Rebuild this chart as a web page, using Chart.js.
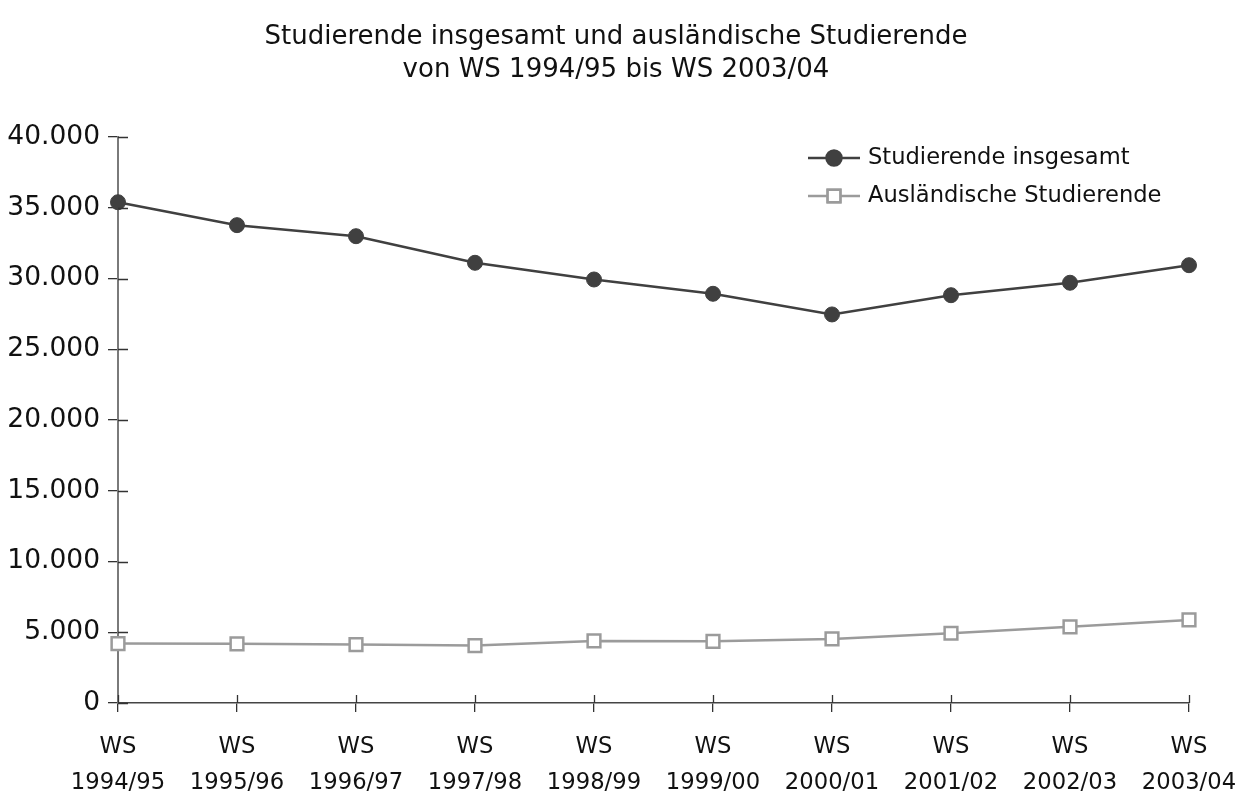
<!DOCTYPE html>
<html>
<head>
<meta charset="utf-8">
<script src="https://cdn.jsdelivr.net/npm/chart.js@4/dist/chart.umd.min.js"></script>
<style>
  html, body { margin: 0; padding: 0; background: #fff; }
  #wrap { width: 1246px; height: 791px; position: relative; }
</style>
</head>
<body>
<div id="wrap"><canvas id="chart" width="1246" height="791"></canvas></div>
<script>
const semesters = [
  ["WS", "1994/95"], ["WS", "1995/96"], ["WS", "1996/97"], ["WS", "1997/98"],
  ["WS", "1998/99"], ["WS", "1999/00"], ["WS", "2000/01"], ["WS", "2001/02"],
  ["WS", "2002/03"], ["WS", "2003/04"]
];
const studierendeInsgesamt = [35390, 33770, 32990, 31110, 29930, 28920, 27460, 28820, 29700, 30940];
const auslaendischeStudierende = [4200, 4180, 4130, 4060, 4390, 4360, 4530, 4930, 5380, 5870];
const titleLines = ["Studierende insgesamt und ausländische Studierende", "von WS 1994/95 bis WS 2003/04"];

const FONT = "'DejaVu Sans', sans-serif";

function formatDe(v) {
  return String(v).replace(/\B(?=(\d{3})+(?!\d))/g, ".");
}

// two-line title, centred a little right of the canvas middle like the original
const chartTitle = {
  id: "chartTitle",
  afterDraw(chart) {
    const ctx = chart.ctx;
    ctx.save();
    ctx.fillStyle = "#111";
    ctx.font = "26px " + FONT;
    ctx.textAlign = "center";
    ctx.textBaseline = "middle";
    titleLines.forEach((line, i) => ctx.fillText(line, 616, 37 + i * 33));
    ctx.restore();
  }
};

// tick marks crossing the axis line (Chart.js only draws the outer half)
const innerTicks = {
  id: "innerTicks",
  afterDatasetsDraw(chart) {
    const ctx = chart.ctx;
    const x = chart.scales.x, y = chart.scales.y;
    ctx.save();
    ctx.strokeStyle = "#333";
    ctx.lineWidth = 1.3;
    ctx.beginPath();
    y.ticks.forEach((t, i) => {
      const py = Math.round(y.getPixelForTick(i)) + 0.5;
      ctx.moveTo(y.right, py);
      ctx.lineTo(y.right + 10, py);
    });
    x.ticks.forEach((t, i) => {
      const px = Math.round(x.getPixelForTick(i)) + 0.5;
      ctx.moveTo(px, x.top);
      ctx.lineTo(px, x.top - 8);
    });
    ctx.stroke();
    ctx.restore();
  }
};

// legend in the upper right of the plot
const innerLegend = {
  id: "innerLegend",
  afterDraw(chart) {
    const ctx = chart.ctx;
    ctx.save();
    chart.data.datasets.forEach((ds, i) => {
      const cy = 158 + i * 38;
      const x0 = 808, x1 = 860, cx = 834;
      ctx.strokeStyle = ds.borderColor;
      ctx.lineWidth = ds.borderWidth;
      ctx.beginPath();
      ctx.moveTo(x0, cy);
      ctx.lineTo(x1, cy);
      ctx.stroke();
      Chart.helpers.drawPoint(ctx, {
        pointStyle: ds.pointStyle,
        radius: ds.pointRadius,
        borderWidth: ds.pointBorderWidth,
        rotation: 0
      }, cx, cy);
      ctx.fillStyle = ds.pointBackgroundColor;
      ctx.strokeStyle = ds.pointBorderColor;
      ctx.lineWidth = ds.pointBorderWidth;
      ctx.fill();
      ctx.stroke();
      ctx.fillStyle = "#111";
      ctx.font = "22.6px " + FONT;
      ctx.textBaseline = "middle";
      ctx.textAlign = "left";
      ctx.fillText(ds.label, 868, cy);
    });
    ctx.restore();
  }
};

new Chart(document.getElementById("chart"), {
  type: "line",
  data: {
    labels: semesters,
    datasets: [
      {
        label: "Studierende insgesamt",
        data: studierendeInsgesamt,
        borderColor: "#404040",
        borderWidth: 2.5,
        pointStyle: "circle",
        pointRadius: 7.5,
        pointBorderWidth: 1,
        pointBackgroundColor: "#404040",
        pointBorderColor: "#404040",
        tension: 0
      },
      {
        label: "Ausländische Studierende",
        data: auslaendischeStudierende,
        borderColor: "#9b9b9b",
        borderWidth: 2.5,
        pointStyle: "rect",
        pointRadius: 9,
        pointBorderWidth: 2.5,
        pointBackgroundColor: "#ffffff",
        pointBorderColor: "#9b9b9b",
        tension: 0
      }
    ]
  },
  options: {
    responsive: false,
    animation: false,
    layout: { padding: { left: 0, right: 57, top: 137, bottom: 0 } },
    plugins: {
      legend: { display: false },
      tooltip: { enabled: false },
      title: { display: false }
    },
    scales: {
      x: {
        offset: false,
        afterFit(scale) {
          scale.height = 88;
          scale.paddingLeft = 0;
          scale.paddingRight = 0;
        },
        border: { color: "#444", width: 1.5 },
        grid: { drawOnChartArea: false, drawTicks: true, tickLength: 9, color: "#333", lineWidth: 1.3 },
        ticks: {
          color: "#111",
          padding: 18,
          maxRotation: 0,
          autoSkip: false,
          font: { family: FONT, size: 22.7, lineHeight: 1.55 }
        }
      },
      y: {
        min: 0,
        max: 40000,
        afterFit(scale) { scale.width = 118; },
        border: { color: "#7a7a7a", width: 2 },
        grid: { drawOnChartArea: false, drawTicks: true, tickLength: 10, color: "#333", lineWidth: 1.3 },
        ticks: {
          stepSize: 5000,
          color: "#111",
          padding: 8,
          font: { family: FONT, size: 26.5 },
          callback: (v) => formatDe(v)
        }
      }
    }
  },
  plugins: [innerTicks, innerLegend, chartTitle]
});
</script>
</body>
</html>
